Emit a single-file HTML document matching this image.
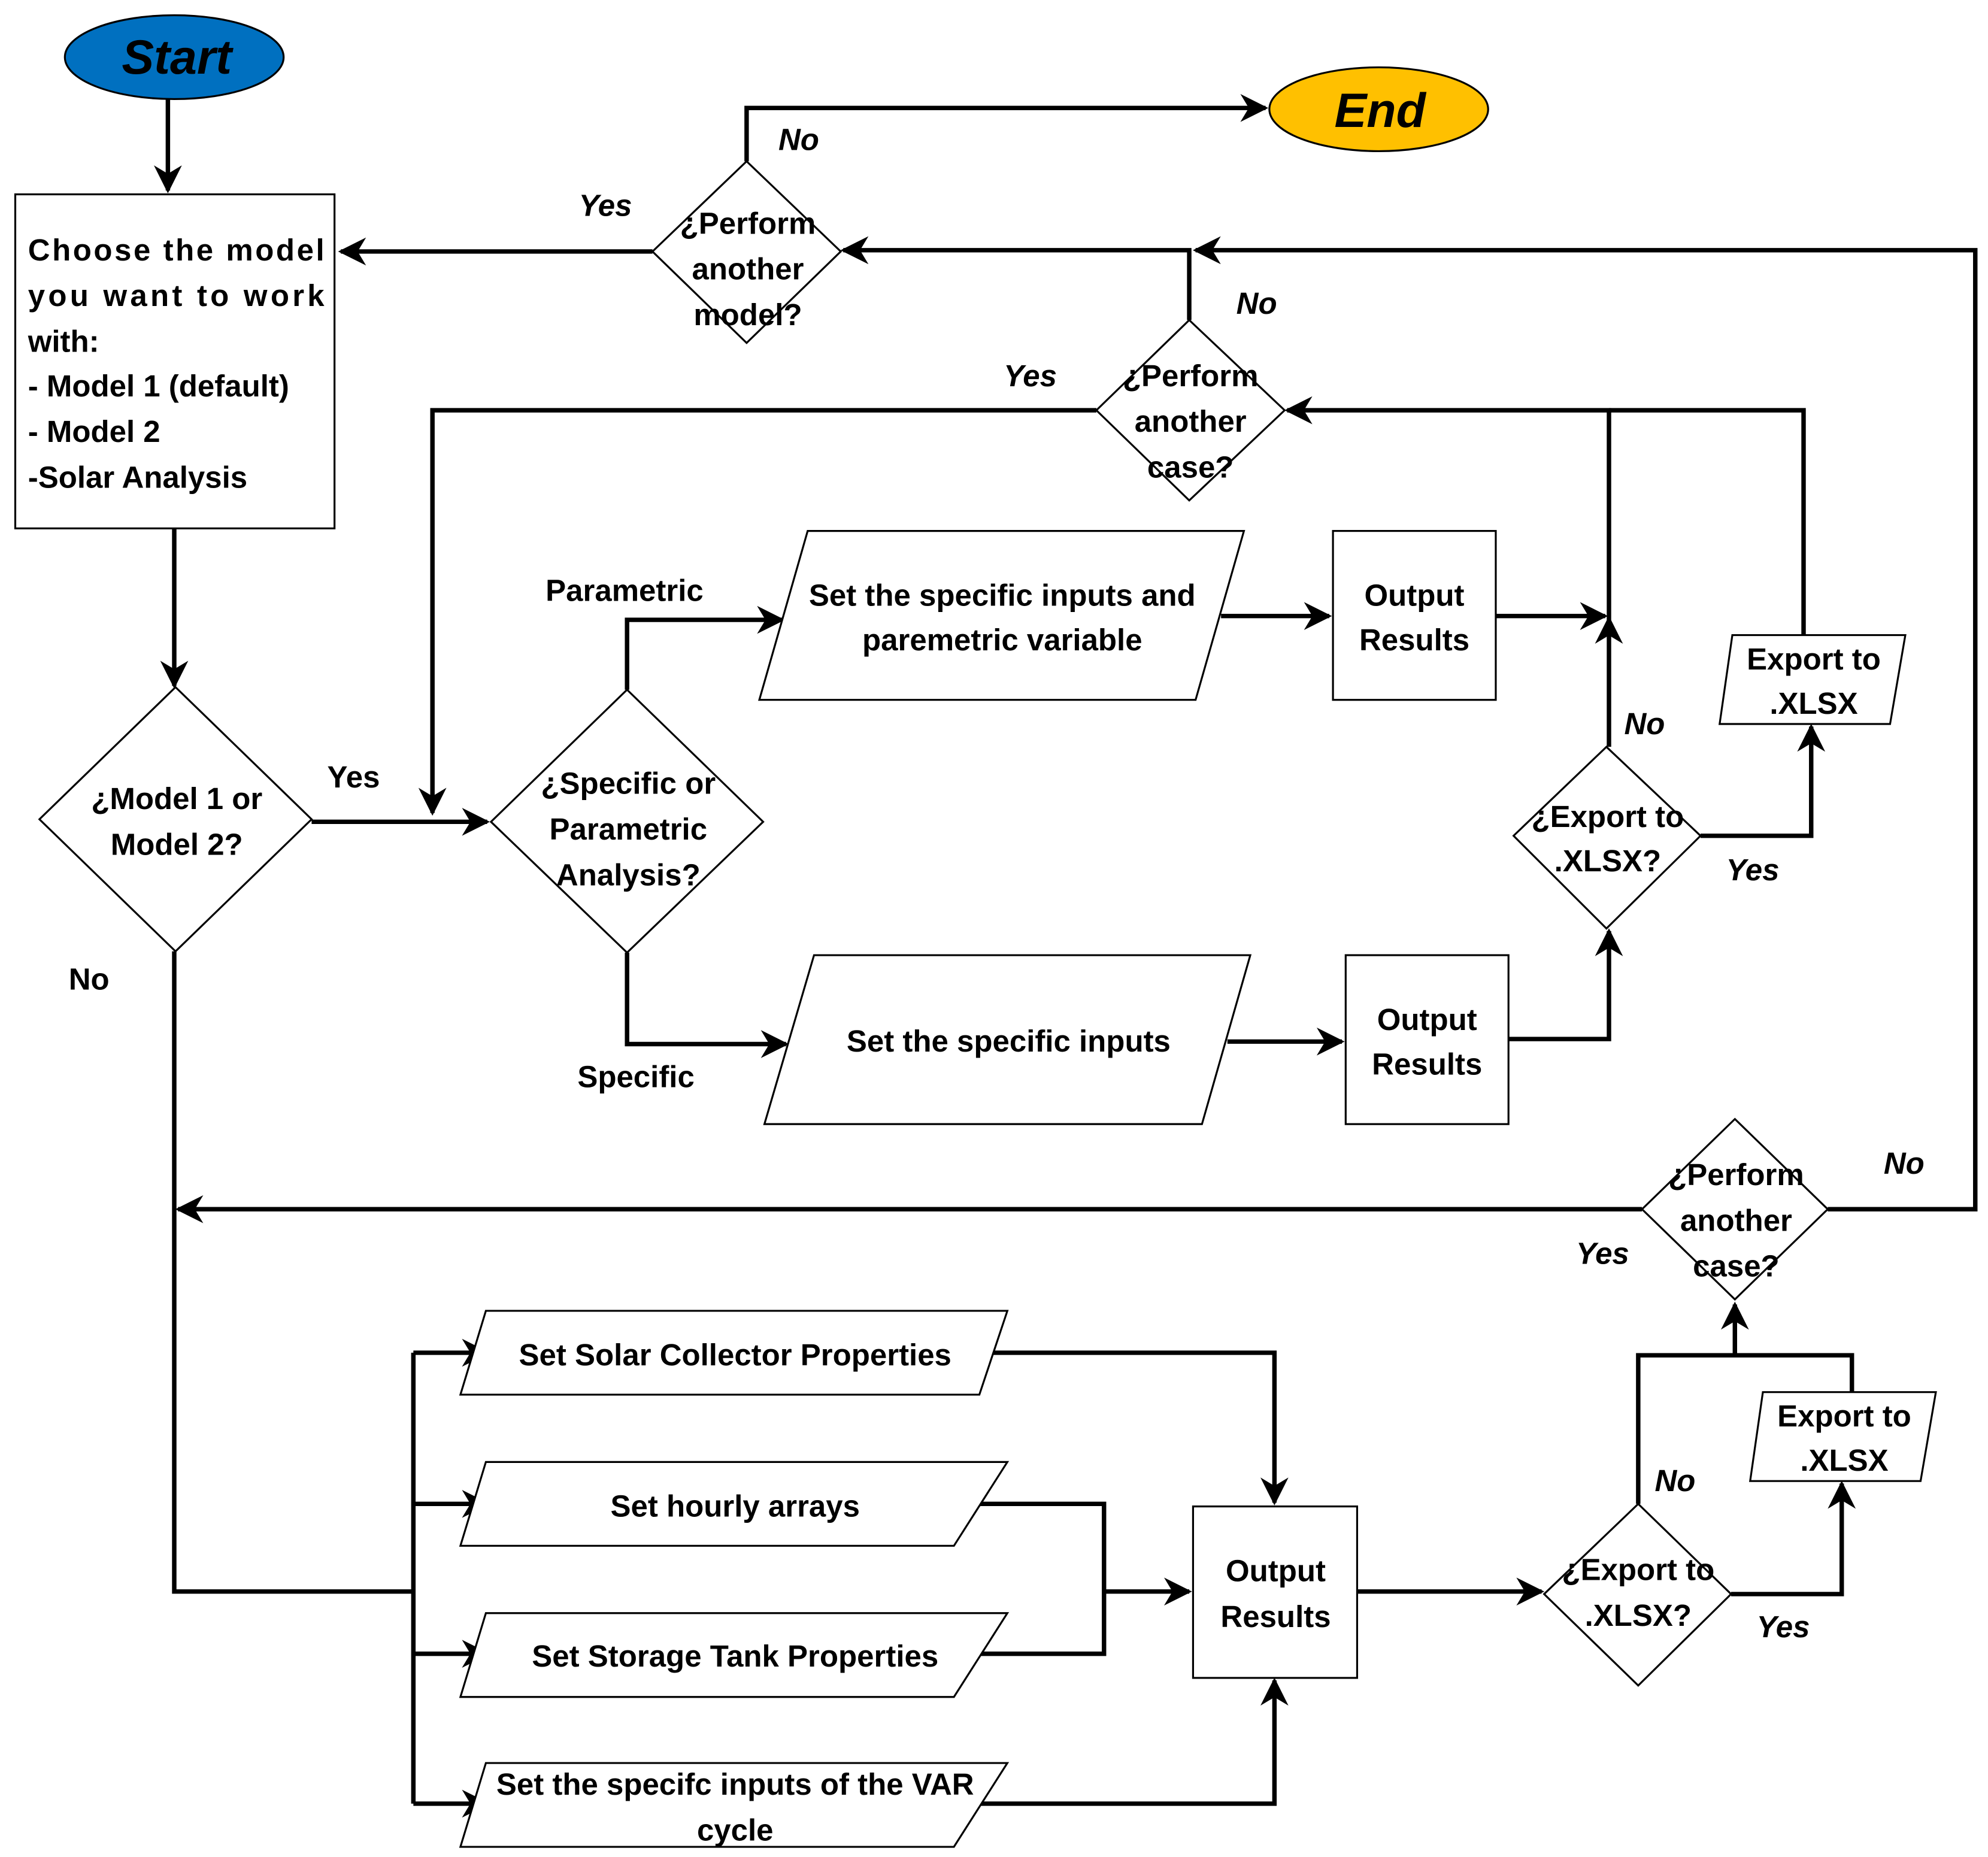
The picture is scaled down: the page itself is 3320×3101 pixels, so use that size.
<!DOCTYPE html>
<html><head><meta charset="utf-8"><style>
html,body{margin:0;padding:0;background:#fff;}
svg{display:block;}
text{font-family:"Liberation Sans",sans-serif;font-weight:bold;font-size:24px;fill:#000;}
.i{font-style:italic;}
</style></head><body>
<svg width="3320" height="3101" viewBox="0 0 1563 1462" preserveAspectRatio="none" xmlns="http://www.w3.org/2000/svg">
<defs>
<marker id="m" viewBox="0 0 10 10" refX="9" refY="5" markerWidth="22" markerHeight="22" markerUnits="userSpaceOnUse" orient="auto">
<path d="M0,0 L10,5 L0,10 L3,5 Z" fill="#000"/>
</marker>
</defs>
<g fill="none" stroke="#000" stroke-width="3.5">
<path d="M132,78 V150" marker-end="url(#m)"/>
<path d="M137,416 V540" marker-end="url(#m)"/>
<path d="M245,647 H383" marker-end="url(#m)"/>
<path d="M493,543 V488 H615" marker-end="url(#m)"/>
<path d="M960,485 H1045" marker-end="url(#m)"/>
<path d="M1176,485 H1262" marker-end="url(#m)"/>
<path d="M493,750 V822 H618" marker-end="url(#m)"/>
<path d="M965,820 H1055" marker-end="url(#m)"/>
<path d="M1186,818 H1265 V733" marker-end="url(#m)"/>
<path d="M1265,588 V487" marker-end="url(#m)"/>
<path d="M1265,487 V323 H1012" marker-end="url(#m)"/>
<path d="M1337,658 H1424 V572" marker-end="url(#m)"/>
<path d="M1418,500 V323 H1265"/>
<path d="M862,323 H340 V640" marker-end="url(#m)"/>
<path d="M935,252 V197 H663" marker-end="url(#m)"/>
<path d="M513,198 H268" marker-end="url(#m)"/>
<path d="M587,127 V85 H995" marker-end="url(#m)"/>
<path d="M1437,952 H1553 V197 H940" marker-end="url(#m)"/>
<path d="M1291,952 H140" marker-end="url(#m)"/>
<path d="M137,749 V1253 H325"/>
<path d="M325,1065 V1420"/>
<path d="M325,1065 H383" marker-end="url(#m)"/>
<path d="M325,1184 H383" marker-end="url(#m)"/>
<path d="M325,1302 H383" marker-end="url(#m)"/>
<path d="M325,1420 H383" marker-end="url(#m)"/>
<path d="M770,1065 H1002 V1183" marker-end="url(#m)"/>
<path d="M770,1184 H868 V1302 H750"/>
<path d="M868,1253 H935" marker-end="url(#m)"/>
<path d="M750,1420 H1002 V1323" marker-end="url(#m)"/>
<path d="M1067,1253 H1212" marker-end="url(#m)"/>
<path d="M1361,1255 H1448 V1168" marker-end="url(#m)"/>
<path d="M1288,1184 V1067 H1456 V1096"/>
<path d="M1364,1067 V1027" marker-end="url(#m)"/>
</g>
<g stroke="#000" stroke-width="1.5" fill="#fff">
<ellipse cx="137" cy="45" rx="86" ry="33" fill="#0070C0"/>
<ellipse cx="1084" cy="86" rx="86" ry="33" fill="#FFC000"/>
<rect x="12" y="153" width="251" height="263"/>
<polygon points="138,541 245,645 138,749 31,645"/>
<polygon points="493,543 600,647 493,750 386,647"/>
<polygon points="635,418 978,418 940,551 597,551"/>
<polygon points="640,752 983,752 945,885 601,885"/>
<rect x="1048" y="418" width="128" height="133"/>
<rect x="1058" y="752" width="128" height="133"/>
<polygon points="1263,588 1337,658 1263,731 1190,658"/>
<polygon points="1362,500 1498,500 1486,570 1352,570"/>
<polygon points="935,252 1010,323 935,394 862,323"/>
<polygon points="587,127 661,198 587,270 513,198"/>
<polygon points="1364,881 1437,952 1364,1023 1291,952"/>
<polygon points="382,1032 792,1032 770,1098 362,1098"/>
<polygon points="382,1151 792,1151 750,1217 362,1217"/>
<polygon points="382,1270 792,1270 750,1336 362,1336"/>
<polygon points="382,1388 792,1388 750,1454 362,1454"/>
<rect x="938" y="1186" width="129" height="135"/>
<polygon points="1288,1184 1361,1255 1288,1327 1214,1255"/>
<polygon points="1386,1096 1522,1096 1510,1166 1376,1166"/>
</g>
<text x="139" y="58" text-anchor="middle" class="i" style="font-size:38px">Start</text>
<text x="1085" y="100" text-anchor="middle" class="i" style="font-size:38px">End</text>
<text x="22" y="205" textLength="233" lengthAdjust="spacing">Choose  the  model</text>
<text x="22" y="241" textLength="233" lengthAdjust="spacing">you  want  to  work</text>
<text x="22" y="277">with:</text>
<text x="22" y="312">- Model 1 (default)</text>
<text x="22" y="348">- Model 2</text>
<text x="22" y="384">-Solar Analysis</text>
<g text-anchor="middle">
<text x="139" y="637">¿Model 1 or</text>
<text x="139" y="673">Model 2?</text>
<text x="494" y="625">¿Specific or</text>
<text x="494" y="661">Parametric</text>
<text x="494" y="697">Analysis?</text>
<text x="788" y="477">Set the specific inputs and</text>
<text x="788" y="512">paremetric variable</text>
<text x="793" y="828">Set the specific inputs</text>
<text x="1112" y="477">Output</text>
<text x="1112" y="512">Results</text>
<text x="1122" y="811">Output</text>
<text x="1122" y="846">Results</text>
<text x="1264" y="651">¿Export to</text>
<text x="1264" y="686">.XLSX?</text>
<text x="1426" y="527">Export to</text>
<text x="1426" y="562">.XLSX</text>
<text x="936" y="304">¿Perform</text>
<text x="936" y="340">another</text>
<text x="936" y="376">case?</text>
<text x="588" y="184">¿Perform</text>
<text x="588" y="220">another</text>
<text x="588" y="256">model?</text>
<text x="1365" y="933">¿Perform</text>
<text x="1365" y="969">another</text>
<text x="1365" y="1005">case?</text>
<text x="578" y="1075">Set Solar Collector Properties</text>
<text x="578" y="1194">Set hourly arrays</text>
<text x="578" y="1312">Set Storage Tank Properties</text>
<text x="578" y="1413">Set the specifc inputs of the VAR</text>
<text x="578" y="1449">cycle</text>
<text x="1003" y="1245">Output</text>
<text x="1003" y="1281">Results</text>
<text x="1288" y="1244">¿Export to</text>
<text x="1288" y="1280">.XLSX?</text>
<text x="1450" y="1123">Export to</text>
<text x="1450" y="1158">.XLSX</text>
<text x="628" y="118" class="i">No</text>
<text x="476" y="170" class="i">Yes</text>
<text x="988" y="247" class="i">No</text>
<text x="810" y="304" class="i">Yes</text>
<text x="491" y="473">Parametric</text>
<text x="278" y="620">Yes</text>
<text x="70" y="779">No</text>
<text x="500" y="856">Specific</text>
<text x="1293" y="578" class="i">No</text>
<text x="1378" y="693" class="i">Yes</text>
<text x="1497" y="924" class="i">No</text>
<text x="1260" y="995" class="i">Yes</text>
<text x="1317" y="1174" class="i">No</text>
<text x="1402" y="1289" class="i">Yes</text>
</g>
</svg>
</body></html>
